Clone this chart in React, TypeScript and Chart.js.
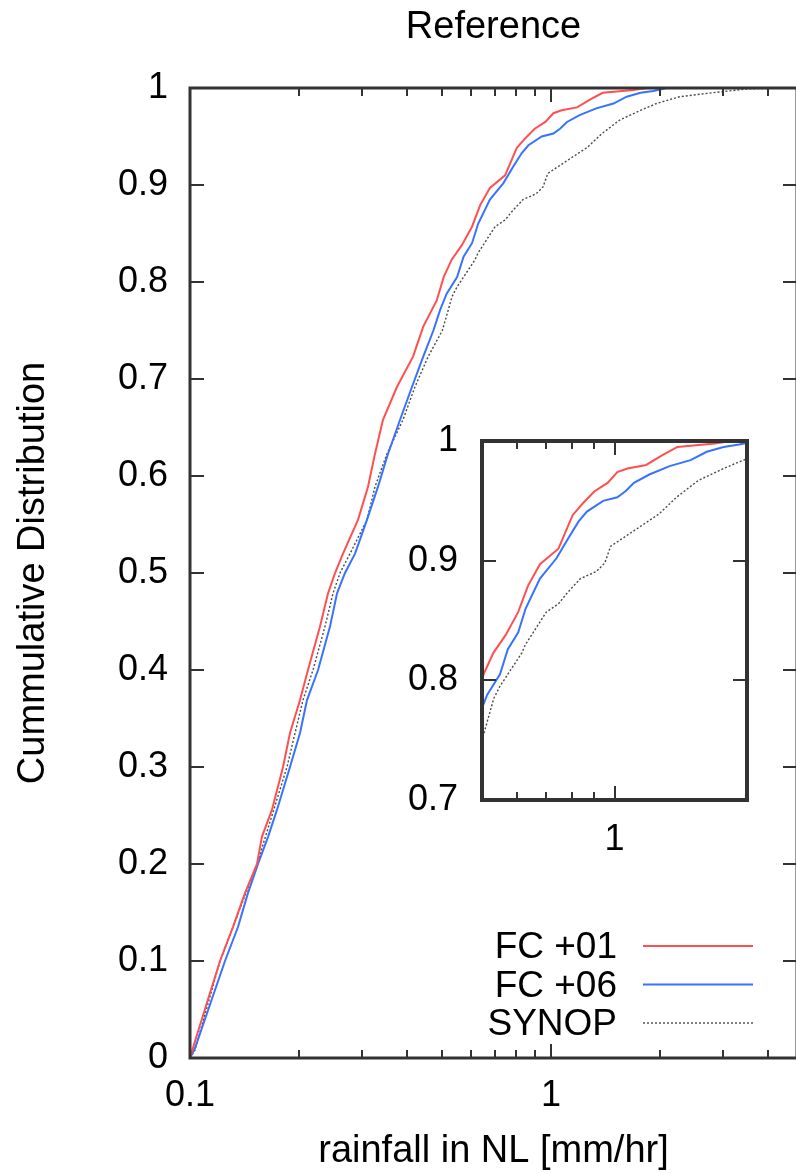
import React, { useEffect, useRef } from "react";
import { Chart, registerables } from "chart.js";

Chart.register(...registerables);

// ---------- data ----------
const SERIES_NAMES = ["FC +01", "FC +06", "SYNOP"];

const FC01_X = [0.1, 0.1032, 0.1136, 0.1211, 0.1315, 0.142, 0.1533, 0.1582, 0.1687, 0.181, 0.1892, 0.2017, 0.2122, 0.2292, 0.2412, 0.2522, 0.2653, 0.2921, 0.3112, 0.3254, 0.3424, 0.3745, 0.4147, 0.4426, 0.4824, 0.5041, 0.5307, 0.5661, 0.6041, 0.6359, 0.6771, 0.7458, 0.7779, 0.8033, 0.8475, 0.9011, 0.9645, 1.015, 1.07, 1.18, 1.282, 1.39, 1.69, 1.84, 4.8];
const FC01_Y = [0, 0.017, 0.067, 0.1, 0.135, 0.17, 0.2, 0.228, 0.256, 0.3, 0.335, 0.369, 0.4, 0.445, 0.479, 0.5, 0.52, 0.555, 0.589, 0.623, 0.658, 0.692, 0.723, 0.754, 0.781, 0.805, 0.823, 0.838, 0.857, 0.879, 0.897, 0.91, 0.926, 0.938, 0.948, 0.958, 0.965, 0.974, 0.977, 0.98, 0.988, 0.995, 0.998, 1.0, 1.0];

const FC06_X = [0.1, 0.1032, 0.125, 0.1358, 0.1447, 0.1543, 0.1645, 0.1742, 0.1892, 0.2017, 0.2109, 0.2263, 0.2443, 0.2554, 0.2687, 0.2865, 0.3093, 0.3317, 0.3536, 0.3818, 0.4121, 0.4426, 0.4722, 0.4927, 0.5139, 0.5493, 0.5724, 0.6041, 0.6282, 0.6771, 0.7381, 0.7859, 0.8297, 0.8656, 0.9423, 1.015, 1.059, 1.107, 1.2, 1.334, 1.489, 1.62, 1.77, 1.92, 2.09, 4.8];
const FC06_Y = [0, 0.01, 0.1, 0.135, 0.17, 0.2, 0.228, 0.256, 0.3, 0.335, 0.369, 0.4, 0.445, 0.479, 0.5, 0.52, 0.555, 0.589, 0.623, 0.658, 0.692, 0.723, 0.75, 0.771, 0.788, 0.805, 0.826, 0.84, 0.86, 0.885, 0.902, 0.919, 0.933, 0.941, 0.95, 0.953, 0.958, 0.965, 0.972, 0.979, 0.984, 0.991, 0.995, 0.997, 1.0, 1.0];

const SYNOP_X = [0.1, 0.1032, 0.1211, 0.1533, 0.1856, 0.1954, 0.2056, 0.2191, 0.2366, 0.2489, 0.2603, 0.2775, 0.3093, 0.3254, 0.3513, 0.389, 0.42, 0.4564, 0.5, 0.5319, 0.5491, 0.616, 0.6279, 0.6998, 0.746, 0.785, 0.8365, 0.91, 0.95, 0.98, 1.107, 1.262, 1.383, 1.55, 1.77, 1.96, 2.27, 2.64, 2.94, 3.49, 4.31, 4.8];
const SYNOP_Y = [0, 0.008, 0.1, 0.2, 0.3, 0.335, 0.369, 0.4, 0.445, 0.479, 0.5, 0.52, 0.555, 0.589, 0.623, 0.658, 0.692, 0.723, 0.75, 0.785, 0.795, 0.823, 0.83, 0.857, 0.864, 0.874, 0.885, 0.891, 0.898, 0.912, 0.925, 0.939, 0.953, 0.967, 0.977, 0.984, 0.991, 0.994, 0.996, 0.999, 1.0, 1.0];

// main axes
const MAIN_X_MIN = 0.1;
const MAIN_X_MAX = 4.8;
const MAIN_X_MAJOR = [0.1, 1];
const MAIN_X_MAJOR_LABELS = ["0.1", "1"];
const MAIN_X_MINOR = [0.2, 0.3, 0.4, 0.5, 0.6, 0.7, 0.8, 0.9, 2, 3, 4];
const MAIN_Y_TICKS = [0, 0.1, 0.2, 0.3, 0.4, 0.5, 0.6, 0.7, 0.8, 0.9, 1];
const MAIN_Y_LABELS = ["0", "0.1", "0.2", "0.3", "0.4", "0.5", "0.6", "0.7", "0.8", "0.9", "1"];

// inset axes
const INSET_X_MIN = 0.5;
const INSET_X_MAX = 2;
const INSET_X_MAJOR = [1];
const INSET_X_MAJOR_LABELS = ["1"];
const INSET_X_MINOR = [0.6, 0.7, 0.8, 0.9];
const INSET_Y_TICKS = [0.7, 0.8, 0.9, 1];
const INSET_Y_LABELS = ["0.7", "0.8", "0.9", "1"];

const TITLE = "Reference";
const X_TITLE = "rainfall in NL [mm/hr]";
const Y_TITLE = "Cummulative Distribution";

// ---------- styles ----------
const FONT = '"Liberation Sans", Arial, Helvetica, sans-serif';
const W = 800;
const H = 1174;
const RED = "rgb(255,80,80)";
const BLUE = "rgb(55,115,255)";
const GRAY = "#4a4a4a";
const FRAME = "#333333";

const pts = (xs: number[], ys: number[]) => xs.map((x, i) => ({ x, y: ys[i] }));

function makeDatasets() {
  return [
    { label: SERIES_NAMES[0], data: pts(FC01_X, FC01_Y), borderColor: RED, borderWidth: 2, pointRadius: 0, tension: 0, fill: false },
    { label: SERIES_NAMES[1], data: pts(FC06_X, FC06_Y), borderColor: BLUE, borderWidth: 2, pointRadius: 0, tension: 0, fill: false },
    { label: SERIES_NAMES[2], data: pts(SYNOP_X, SYNOP_Y), borderColor: GRAY, borderWidth: 1.4, borderDash: [2, 2], pointRadius: 0, tension: 0, fill: false },
  ];
}

function labelFor(values: number[], labels: string[], v: number) {
  for (let i = 0; i < values.length; i++) if (Math.abs(values[i] - v) < 1e-9) return labels[i];
  return "";
}

function framePlugin(o: { yTicks: number[]; xMajor: number[]; xMinor: number[]; major: number; minor: number; frameWidth: number; fill: boolean }) {
  return {
    id: "frameTicks",
    beforeDatasetsDraw(chart: any) {
      if (!o.fill) return;
      const a = chart.chartArea;
      const ctx = chart.ctx;
      ctx.save();
      ctx.fillStyle = "#ffffff";
      ctx.fillRect(a.left, a.top, a.right - a.left, a.bottom - a.top);
      ctx.restore();
    },
    afterDraw(chart: any) {
      const { ctx, chartArea: a, scales } = chart;
      ctx.save();
      ctx.strokeStyle = FRAME;
      ctx.lineWidth = 2;
      ctx.beginPath();
      for (const v of o.yTicks) {
        const py = Math.round(scales.y.getPixelForValue(v));
        ctx.moveTo(a.left, py); ctx.lineTo(a.left + o.major, py);
        ctx.moveTo(a.right, py); ctx.lineTo(a.right - o.major, py);
      }
      for (const v of o.xMajor) {
        const px = Math.round(scales.x.getPixelForValue(v));
        ctx.moveTo(px, a.bottom); ctx.lineTo(px, a.bottom - o.major);
        ctx.moveTo(px, a.top); ctx.lineTo(px, a.top + o.major);
      }
      for (const v of o.xMinor) {
        const px = Math.round(scales.x.getPixelForValue(v));
        ctx.moveTo(px, a.bottom); ctx.lineTo(px, a.bottom - o.minor);
        ctx.moveTo(px, a.top); ctx.lineTo(px, a.top + o.minor);
      }
      ctx.stroke();
      ctx.lineWidth = o.frameWidth;
      ctx.strokeRect(a.left, a.top, a.right - a.left, a.bottom - a.top);
      ctx.restore();
    },
  };
}

const legendPlugin = {
  id: "gnuLegend",
  afterDraw(chart: any) {
    const { ctx } = chart;
    const textRight = 617;
    const lineX0 = 643;
    const lineX1 = 753;
    const baselines = [958, 996.5, 1035];
    const ds = chart.data.datasets;
    ctx.save();
    ctx.font = `37px ${FONT}`;
    ctx.fillStyle = "#000";
    ctx.textAlign = "right";
    ctx.textBaseline = "alphabetic";
    ds.forEach((d: any, i: number) => {
      ctx.fillText(d.label, textRight, baselines[i]);
      ctx.beginPath();
      ctx.strokeStyle = d.borderColor;
      ctx.lineWidth = d.borderWidth;
      ctx.setLineDash(d.borderDash || []);
      const ly = baselines[i] - 12;
      ctx.moveTo(lineX0, ly);
      ctx.lineTo(lineX1, ly);
      ctx.stroke();
    });
    ctx.restore();
  },
};

export default function App() {
  const mainRef = useRef<HTMLCanvasElement | null>(null);
  const insetRef = useRef<HTMLCanvasElement | null>(null);

  useEffect(() => {
    if (!mainRef.current || !insetRef.current) return;

    const tickFont = { family: FONT, size: 36, weight: "normal" as const };
    const titleFont = { family: FONT, size: 38, weight: "normal" as const };

    const main = new Chart(mainRef.current, {
      type: "line",
      data: { datasets: makeDatasets() as any },
      options: {
        responsive: false,
        animation: false,
        events: [],
        layout: { padding: { left: 0, right: 3, top: 0, bottom: 0 } },
        plugins: {
          legend: { display: false },
          tooltip: { enabled: false },
          title: {
            display: true,
            text: TITLE,
            fullSize: false,
            color: "#000",
            font: titleFont,
            padding: { top: 5, bottom: 37.4 },
          },
        },
        scales: {
          x: {
            type: "logarithmic",
            min: MAIN_X_MIN,
            max: MAIN_X_MAX,
            afterFit: (s: any) => { s.height = 116; },
            afterBuildTicks: (s: any) => { s.ticks = [...MAIN_X_MAJOR, ...MAIN_X_MINOR].sort((a, b) => a - b).map((v) => ({ value: v })); },
            ticks: {
              autoSkip: false,
              maxRotation: 0,
              minRotation: 0,
              padding: 16,
              color: "#000",
              font: tickFont,
              callback: (v: any) => labelFor(MAIN_X_MAJOR, MAIN_X_MAJOR_LABELS, Number(v)),
            },
            grid: { display: false, drawTicks: false },
            border: { display: false },
            title: { display: true, text: X_TITLE, color: "#000", font: titleFont, padding: { top: 0, bottom: 0 } },
          },
          y: {
            type: "linear",
            min: 0,
            max: 1,
            afterFit: (s: any) => { s.width = 190; },
            afterBuildTicks: (s: any) => { s.ticks = MAIN_Y_TICKS.map((v) => ({ value: v })); },
            ticks: {
              autoSkip: false,
              padding: 22,
              color: "#000",
              font: tickFont,
              callback: (v: any) => labelFor(MAIN_Y_TICKS, MAIN_Y_LABELS, Number(v)),
            },
            grid: { display: false, drawTicks: false },
            border: { display: false },
            title: { display: true, text: Y_TITLE, color: "#000", font: titleFont, padding: { top: 11, bottom: 0 } },
          },
        },
      },
      plugins: [framePlugin({ yTicks: MAIN_Y_TICKS, xMajor: MAIN_X_MAJOR, xMinor: MAIN_X_MINOR, major: 14, minor: 8, frameWidth: 3, fill: false }), legendPlugin],
    } as any);

    const inset = new Chart(insetRef.current, {
      type: "line",
      data: { datasets: makeDatasets() as any },
      options: {
        responsive: false,
        animation: false,
        events: [],
        layout: { padding: { left: 0, right: W - 747, top: 441, bottom: 0 } },
        plugins: { legend: { display: false }, tooltip: { enabled: false }, title: { display: false } },
        scales: {
          x: {
            type: "logarithmic",
            min: INSET_X_MIN,
            max: INSET_X_MAX,
            afterFit: (s: any) => { s.height = H - 800; },
            afterBuildTicks: (s: any) => { s.ticks = [...INSET_X_MINOR, ...INSET_X_MAJOR].sort((a, b) => a - b).map((v) => ({ value: v })); },
            ticks: {
              autoSkip: false,
              maxRotation: 0,
              minRotation: 0,
              padding: 18,
              color: "#000",
              font: tickFont,
              callback: (v: any) => labelFor(INSET_X_MAJOR, INSET_X_MAJOR_LABELS, Number(v)),
            },
            grid: { display: false, drawTicks: false },
            border: { display: false },
          },
          y: {
            type: "linear",
            min: 0.7,
            max: 1,
            afterFit: (s: any) => { s.width = 482; },
            afterBuildTicks: (s: any) => { s.ticks = INSET_Y_TICKS.map((v) => ({ value: v })); },
            ticks: {
              autoSkip: false,
              padding: 24,
              color: "#000",
              font: tickFont,
              callback: (v: any) => labelFor(INSET_Y_TICKS, INSET_Y_LABELS, Number(v)),
            },
            grid: { display: false, drawTicks: false },
            border: { display: false },
          },
        },
      },
      plugins: [framePlugin({ yTicks: INSET_Y_TICKS, xMajor: INSET_X_MAJOR, xMinor: INSET_X_MINOR, major: 14, minor: 8, frameWidth: 4, fill: true })],
    } as any);

    return () => {
      main.destroy();
      inset.destroy();
    };
  }, []);

  return (
    <div style={{ position: "fixed", left: 0, top: 0, width: W, height: H, background: "#fff" }}>
      <canvas ref={mainRef} width={W} height={H} style={{ position: "absolute", left: 0, top: 0, width: W, height: H, display: "block" }} />
      <canvas ref={insetRef} width={W} height={H} style={{ position: "absolute", left: 0, top: 0, width: W, height: H, display: "block" }} />
    </div>
  );
}
